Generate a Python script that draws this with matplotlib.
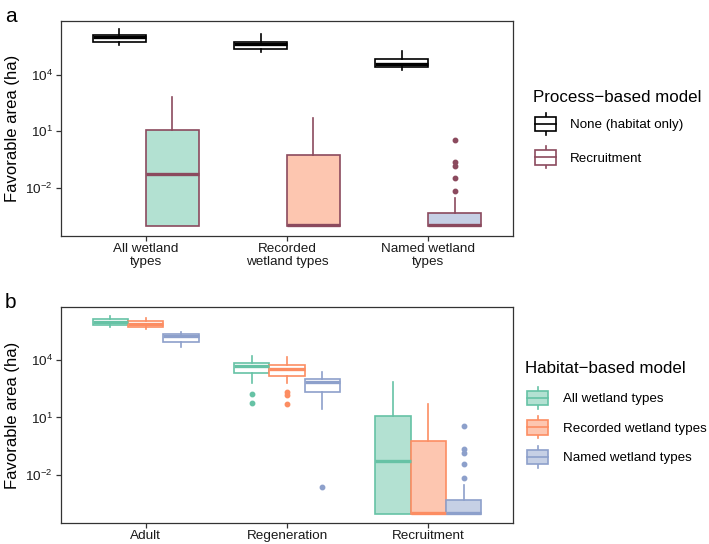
import numpy as np
import matplotlib
matplotlib.use("Agg")
import matplotlib.pyplot as plt
from matplotlib.patches import Patch, Rectangle
from matplotlib.lines import Line2D
from matplotlib.legend_handler import HandlerBase
from matplotlib.ticker import NullLocator, FixedLocator

plt.rcParams['font.family'] = ['Liberation Sans', 'DejaVu Sans']
plt.rcParams['mathtext.fontset'] = 'custom'
plt.rcParams['mathtext.rm'] = 'Liberation Sans'
plt.rcParams['mathtext.it'] = 'Liberation Sans:italic'
plt.rcParams['mathtext.bf'] = 'Liberation Sans:bold'

# ---------------- data (log10 of favorable area, ha) ----------------
# stats order: whisker low, Q1, median, Q3, whisker high
cats_a = ["All wetland\ntypes", "Recorded\nwetland types", "Named wetland\ntypes"]
process_labels = ["None (habitat only)", "Recruitment"]

habitat_only_stats = [
    [5.57, 5.77, 6.00, 6.13, 6.43],
    [5.23, 5.39, 5.65, 5.76, 6.18],
    [4.27, 4.43, 4.59, 4.85, 5.28],
]
habitat_only_fliers = [[], [], []]

recruit_stats = [
    [-4.02, -4.02, -1.27, 1.07, 2.84],
    [-4.02, -4.02, -4.00, -0.25, 1.72],
    [-4.02, -4.02, -3.98, -3.33, -2.55],
]
recruit_fliers = [[], [], [0.55, -0.64, -0.86, -1.47, -2.16]]

cats_b = ["Adult", "Regeneration", "Recruitment"]
habitat_labels = ["All wetland types", "Recorded wetland types", "Named wetland types"]

b_all_stats = [
    [5.70, 5.83, 5.98, 6.14, 6.30],
    [2.82, 3.34, 3.70, 3.84, 4.21],
    [-4.02, -4.02, -1.29, 1.08, 2.84],
]
b_all_fliers = [[], [2.21, 1.74], []]

b_rec_stats = [
    [5.60, 5.74, 5.88, 6.03, 6.21],
    [2.78, 3.18, 3.51, 3.74, 4.16],
    [-4.02, -4.02, -4.00, -0.23, 1.70],
]
b_rec_fliers = [[], [2.31, 2.16, 1.69], []]

b_named_stats = [
    [4.66, 4.94, 5.26, 5.34, 5.46],
    [1.43, 2.33, 2.84, 3.02, 3.39],
    [-4.02, -4.02, -3.99, -3.32, -2.52],
]
b_named_fliers = [[], [-2.64], [0.57, -0.63, -0.87, -1.44, -2.14]]

# ---------------- styles ----------------
green, orange, blue = "#66C2A5", "#FC8D62", "#8DA0CB"
green_f, orange_f, blue_f = "#B3E1D2", "#FDC6B0", "#C6D0E5"
maroon = "#8B4A5E"
LW = 1.2


def to_bxp(stats, fliers):
    out = []
    for s, f in zip(stats, fliers):
        out.append(dict(whislo=10 ** s[0], q1=10 ** s[1], med=10 ** s[2],
                        q3=10 ** s[3], whishi=10 ** s[4],
                        fliers=np.power(10.0, np.array(f, dtype=float))))
    return out


def draw(ax, stats, fliers, positions, width, edge, fills):
    arts = ax.bxp(to_bxp(stats, fliers), positions=positions, widths=width,
                  patch_artist=True, showcaps=False, manage_ticks=False,
                  boxprops=dict(edgecolor=edge, linewidth=LW),
                  whiskerprops=dict(color=edge, linewidth=LW),
                  medianprops=dict(color=edge, linewidth=LW * 2,
                                   solid_capstyle='butt'),
                  flierprops=dict(marker='o', markerfacecolor=edge,
                                  markeredgecolor=edge, markersize=3.2,
                                  linestyle='none'))
    for b, fc in zip(arts['boxes'], fills):
        b.set_facecolor(fc)
    return arts


class BoxKey(HandlerBase):
    def create_artists(self, legend, orig, xd, yd, w, h, fs, trans):
        ec = orig.get_edgecolor()
        fc = orig.get_facecolor()
        x0 = -xd + w * 0.06
        x1 = -xd + w * 0.94
        y0 = -yd + h * 0.17
        y1 = -yd + h * 0.83
        cx = -xd + w / 2
        ym = (y0 + y1) / 2
        wb = Line2D([cx, cx], [-yd, y0], color=ec, lw=LW, transform=trans)
        wt = Line2D([cx, cx], [y1, -yd + h], color=ec, lw=LW, transform=trans)
        rect = Rectangle((x0, y0), x1 - x0, y1 - y0, facecolor=fc,
                         edgecolor=ec, lw=LW, transform=trans)
        med = Line2D([x0, x1], [ym, ym], color=ec, lw=LW, transform=trans)
        return [wb, wt, rect, med]


def style_axes(ax, ylim, xlabels):
    ax.set_yscale('log')
    ax.set_ylim(10 ** ylim[0], 10 ** ylim[1])
    ax.set_xlim(0.4, 3.6)
    ax.yaxis.set_major_locator(FixedLocator([1e-2, 1e1, 1e4]))
    ax.yaxis.set_minor_locator(NullLocator())
    ax.set_yticklabels([r'$\mathregular{10^{-2}}$', r'$\mathregular{10^{1}}$',
                        r'$\mathregular{10^{4}}$'])
    ax.set_xticks([1, 2, 3])
    ax.set_xticklabels(xlabels)
    for sp in ax.spines.values():
        sp.set_color('#333333')
        sp.set_linewidth(0.9)
    ax.tick_params(axis='both', length=3.5, width=0.9, color='#333333',
                   labelsize=9.7, labelcolor='#1a1a1a', pad=2.5)
    ax.tick_params(axis='x', pad=1.5)
    ax.set_ylabel("Favorable area (ha)", fontsize=12, labelpad=4)


fig = plt.figure(figsize=(7.09, 5.44), dpi=100)
W, H = 709, 544
ax_a = fig.add_axes([61 / W, 1 - 235.7 / H, 452 / W, 215 / H])
ax_b = fig.add_axes([61 / W, 1 - 522.7 / H, 452.3 / W, 215.4 / H])

# ---- panel a ----
pos = np.arange(1, 4)
wa = 0.375
draw(ax_a, habitat_only_stats, habitat_only_fliers, pos - wa / 2, wa,
     'black', ['white'] * 3)
draw(ax_a, recruit_stats, recruit_fliers, pos + wa / 2, wa,
     maroon, [green_f, orange_f, blue_f])
style_axes(ax_a, (-4.56, 6.89), cats_a)

# ---- panel b ----
wb_ = 0.25
draw(ax_b, b_all_stats, b_all_fliers, pos - wb_, wb_, green,
     ['white', 'white', green_f])
draw(ax_b, b_rec_stats, b_rec_fliers, pos, wb_, orange,
     ['white', 'white', orange_f])
draw(ax_b, b_named_stats, b_named_fliers, pos + wb_, wb_, blue,
     ['white', 'white', blue_f])
style_axes(ax_b, (-4.49, 6.75), cats_b)

fig.text(5 / W, 1 - 17 / H, "a", fontsize=15, va='center', ha='left')
fig.text(5 / W, 1 - 302 / H, "b", fontsize=15, va='center', ha='left')

# ---- legends ----
fig.text(533 / W, 1 - 101.7 / H, "Process\u2212based model", fontsize=12.2,
         va='baseline', ha='left')
ha = [Patch(facecolor='white', edgecolor='black'),
      Patch(facecolor='white', edgecolor=maroon)]
leg_a = fig.legend(ha, process_labels, loc='upper left',
                   bbox_to_anchor=(533.6 / W, 1 - 113 / H), frameon=False,
                   fontsize=9.6, handler_map={Patch: BoxKey()},
                   handlelength=1.79, handleheight=2.16, labelspacing=0.86,
                   handletextpad=0.95, borderpad=0, borderaxespad=0)

fig.text(525 / W, 1 - 373.3 / H, "Habitat\u2212based model", fontsize=12.2,
         va='baseline', ha='left')
hb = [Patch(facecolor=green_f, edgecolor=green),
      Patch(facecolor=orange_f, edgecolor=orange),
      Patch(facecolor=blue_f, edgecolor=blue)]
leg_b = fig.legend(hb, habitat_labels, loc='upper left',
                   bbox_to_anchor=(526 / W, 1 - 387 / H), frameon=False,
                   fontsize=9.6, handler_map={Patch: BoxKey()},
                   handlelength=1.79, handleheight=2.16, labelspacing=0.56,
                   handletextpad=0.99, borderpad=0, borderaxespad=0)

fig.savefig("out.png", dpi=100)
